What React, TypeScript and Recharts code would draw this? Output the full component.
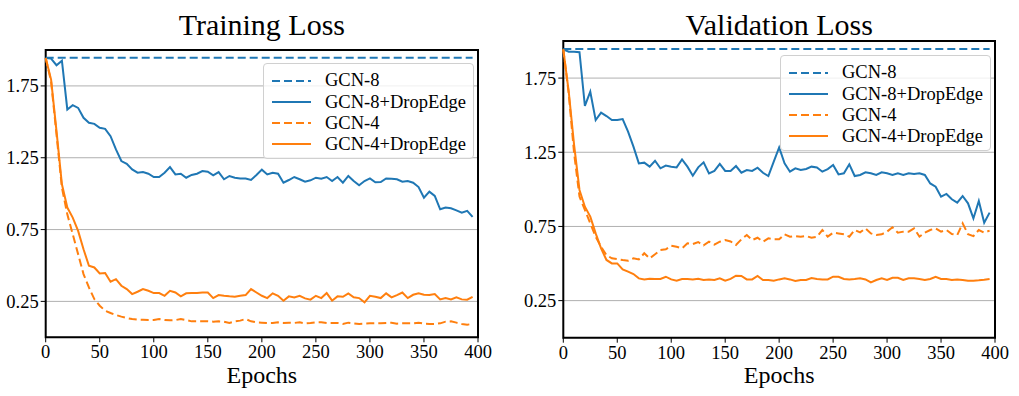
import React from "react";
import {
  CartesianGrid,
  Line,
  LineChart,
  ReferenceArea,
  XAxis,
  YAxis,
} from "recharts";

const FONT = "'Liberation Serif', 'Times New Roman', serif";
const BLUE = "#1f77b4";
const ORANGE = "#ff7f0e";

const epochs = [
  0, 5, 10, 15, 20, 25, 30, 35, 40, 45, 50, 55, 60, 65, 70, 75, 80, 85, 90, 95,
  100, 105, 110, 115, 120, 125, 130, 135, 140, 145, 150, 155, 160, 165, 170, 175, 180, 185, 190, 195,
  200, 205, 210, 215, 220, 225, 230, 235, 240, 245, 250, 255, 260, 265, 270, 275, 280, 285, 290, 295,
  300, 305, 310, 315, 320, 325, 330, 335, 340, 345, 350, 355, 360, 365, 370, 375, 380, 385, 390, 395,
];

const xTicks = [0, 50, 100, 150, 200, 250, 300, 350, 400];
const yTicks = [0.25, 0.75, 1.25, 1.75];

// GCN-8 never leaves its starting loss
const gcn8Epochs = [0, 395];
const trainGcn8 = [1.946, 1.946];
const valGcn8 = [1.946, 1.946];

const trainGcn8DE = [
  1.944, 1.94, 1.894, 1.926, 1.586, 1.616, 1.597, 1.528, 1.493, 1.486, 1.458, 1.451, 1.4, 1.308, 1.227, 1.208, 1.169, 1.146, 1.15, 1.139,
  1.116, 1.116, 1.146, 1.185, 1.134, 1.139, 1.111, 1.13, 1.139, 1.157, 1.153, 1.127, 1.15, 1.1, 1.123, 1.111, 1.106, 1.106, 1.095, 1.13,
  1.167, 1.134, 1.146, 1.139, 1.076, 1.095, 1.116, 1.1, 1.083, 1.093, 1.111, 1.104, 1.116, 1.088, 1.116, 1.076, 1.123, 1.088, 1.058, 1.088,
  1.106, 1.079, 1.081, 1.106, 1.104, 1.1, 1.083, 1.088, 1.076, 1.046, 0.972, 1.014, 0.984, 0.891, 0.903, 0.898, 0.884, 0.868, 0.88, 0.838,
];

const trainGcn4 = [
  1.944, 1.78, 1.412, 1.042, 0.856, 0.718, 0.579, 0.44, 0.347, 0.266, 0.22, 0.185, 0.169, 0.155, 0.144, 0.134, 0.127, 0.123, 0.123, 0.12,
  0.12, 0.127, 0.12, 0.118, 0.12, 0.127, 0.12, 0.111, 0.111, 0.111, 0.111, 0.109, 0.111, 0.109, 0.1, 0.111, 0.116, 0.127, 0.111, 0.104,
  0.102, 0.1, 0.1, 0.104, 0.1, 0.102, 0.1, 0.104, 0.097, 0.1, 0.104, 0.104, 0.1, 0.1, 0.1, 0.093, 0.102, 0.097, 0.093, 0.095,
  0.097, 0.097, 0.097, 0.1, 0.102, 0.095, 0.097, 0.097, 0.097, 0.102, 0.095, 0.093, 0.093, 0.097, 0.109, 0.111, 0.102, 0.093, 0.088, 0.093,
];

const trainGcn4DE = [
  1.944, 1.794, 1.435, 1.065, 0.903, 0.833, 0.741, 0.613, 0.498, 0.486, 0.444, 0.447, 0.387, 0.405, 0.359, 0.336, 0.301, 0.317, 0.336, 0.324,
  0.308, 0.308, 0.289, 0.324, 0.312, 0.285, 0.306, 0.308, 0.308, 0.312, 0.312, 0.273, 0.294, 0.289, 0.285, 0.282, 0.289, 0.294, 0.336, 0.312,
  0.289, 0.273, 0.306, 0.289, 0.255, 0.285, 0.278, 0.289, 0.271, 0.262, 0.289, 0.273, 0.308, 0.255, 0.285, 0.282, 0.306, 0.278, 0.273, 0.243,
  0.289, 0.282, 0.273, 0.306, 0.278, 0.294, 0.312, 0.273, 0.296, 0.306, 0.296, 0.294, 0.301, 0.264, 0.273, 0.264, 0.278, 0.264, 0.262, 0.282,
];

const valGcn8DE = [
  1.944, 1.928, 1.928, 1.924, 1.562, 1.658, 1.467, 1.517, 1.494, 1.467, 1.467, 1.474, 1.389, 1.288, 1.175, 1.18, 1.153, 1.193, 1.142, 1.16,
  1.153, 1.148, 1.202, 1.153, 1.092, 1.148, 1.182, 1.108, 1.124, 1.171, 1.124, 1.124, 1.157, 1.112, 1.13, 1.124, 1.146, 1.112, 1.09, 1.187,
  1.283, 1.175, 1.119, 1.142, 1.13, 1.137, 1.153, 1.148, 1.119, 1.137, 1.164, 1.101, 1.108, 1.169, 1.09, 1.097, 1.115, 1.108, 1.097, 1.115,
  1.108, 1.097, 1.108, 1.097, 1.108, 1.103, 1.108, 1.097, 1.04, 1.018, 0.951, 0.969, 0.933, 0.91, 0.955, 0.906, 0.804, 0.921, 0.775, 0.843,
];

const valGcn4 = [
  1.944, 1.647, 1.243, 0.951, 0.861, 0.771, 0.681, 0.613, 0.557, 0.535, 0.53, 0.524, 0.519, 0.535, 0.528, 0.569, 0.535, 0.562, 0.591, 0.596,
  0.62, 0.613, 0.602, 0.636, 0.631, 0.645, 0.622, 0.647, 0.627, 0.647, 0.658, 0.649, 0.625, 0.663, 0.692, 0.658, 0.674, 0.647, 0.67, 0.663,
  0.663, 0.697, 0.681, 0.685, 0.681, 0.685, 0.674, 0.681, 0.726, 0.681, 0.708, 0.703, 0.697, 0.681, 0.726, 0.71, 0.737, 0.703, 0.692, 0.697,
  0.715, 0.744, 0.708, 0.715, 0.715, 0.737, 0.681, 0.708, 0.726, 0.737, 0.715, 0.726, 0.699, 0.692, 0.771, 0.697, 0.685, 0.726, 0.708, 0.722,
];

const valGcn4DE = [
  1.944, 1.66, 1.3, 0.996, 0.883, 0.816, 0.703, 0.602, 0.524, 0.501, 0.501, 0.461, 0.445, 0.429, 0.4, 0.393, 0.398, 0.396, 0.396, 0.411,
  0.393, 0.384, 0.396, 0.396, 0.393, 0.398, 0.389, 0.393, 0.389, 0.4, 0.384, 0.396, 0.418, 0.416, 0.393, 0.393, 0.416, 0.389, 0.389, 0.384,
  0.393, 0.4, 0.393, 0.382, 0.389, 0.389, 0.402, 0.396, 0.393, 0.393, 0.411, 0.411, 0.396, 0.393, 0.396, 0.4, 0.393, 0.373, 0.389, 0.4,
  0.389, 0.404, 0.404, 0.389, 0.4, 0.4, 0.396, 0.389, 0.396, 0.411, 0.396, 0.396, 0.389, 0.393, 0.389, 0.384, 0.384, 0.387, 0.391, 0.396,
];

const legendItems = [
  { name: "GCN-8", color: BLUE, dashed: true },
  { name: "GCN-8+DropEdge", color: BLUE, dashed: false },
  { name: "GCN-4", color: ORANGE, dashed: true },
  { name: "GCN-4+DropEdge", color: ORANGE, dashed: false },
];

const DASH = "8 4";
const HEIGHT = 396;

const buildRows = (a8de: number[], a4: number[], a4de: number[]) =>
  epochs.map((epoch, i) => ({ epoch, gcn8de: a8de[i], gcn4: a4[i], gcn4de: a4de[i] }));

const buildFlat = (values: number[]) =>
  gcn8Epochs.map((epoch, i) => ({ epoch, loss: values[i] }));

const LegendBox = ({ left, top }: { left: number; top: number }) => (
  <div
    style={{
      position: "absolute",
      left,
      top,
      width: 211,
      height: 96,
      boxSizing: "border-box",
      border: "1px solid #d0d0d0",
      borderRadius: 4,
      background: "rgba(255,255,255,0.8)",
      paddingTop: 6,
      fontFamily: FONT,
      fontSize: 18.5,
      color: "#000",
    }}
  >
    {legendItems.map((item) => (
      <div key={item.name} style={{ display: "flex", alignItems: "center", height: 21.2 }}>
        <svg width={39} height={6} style={{ marginLeft: 8, marginRight: 14 }}>
          <line
            x1={0}
            y1={3}
            x2={39}
            y2={3}
            stroke={item.color}
            strokeWidth={2}
            strokeDasharray={item.dashed ? DASH : undefined}
          />
        </svg>
        <span style={{ whiteSpace: "nowrap", lineHeight: 1 }}>{item.name}</span>
      </div>
    ))}
  </div>
);

interface PanelProps {
  title: string;
  chartLeft: number;
  chartWidth: number;
  plotLeft: number;
  plotTop: number;
  plotRight: number;
  plotBottom: number;
  rows: Array<Record<string, number>>;
  flat: Array<{ epoch: number; loss: number }>;
  legendTop: number;
}

const Panel = ({
  title,
  chartLeft,
  chartWidth,
  plotLeft,
  plotTop,
  plotRight,
  plotBottom,
  rows,
  flat,
  legendTop,
}: PanelProps) => {
  const yAxisWidth = 45.7;
  const xAxisHeight = 30;
  const center = (plotLeft + plotRight) / 2;
  const tickStyle = { fill: "#000", fontSize: 18.5, fontFamily: FONT };
  return (
    <>
      <div
        style={{
          position: "absolute",
          left: center - 150,
          width: 300,
          top: 10,
          textAlign: "center",
          fontFamily: FONT,
          fontSize: 30,
          lineHeight: 1,
          color: "#000",
        }}
      >
        {title}
      </div>
      <div style={{ position: "absolute", left: chartLeft, top: 0 }}>
        <LineChart
          width={chartWidth}
          height={HEIGHT}
          data={rows}
          margin={{
            top: plotTop,
            left: plotLeft - chartLeft - yAxisWidth,
            right: chartLeft + chartWidth - plotRight,
            bottom: HEIGHT - plotBottom - xAxisHeight,
          }}
        >
          <CartesianGrid vertical={false} stroke="#b0b0b0" strokeWidth={1} />
          <XAxis
            dataKey="epoch"
            type="number"
            domain={[0, 400]}
            ticks={xTicks}
            height={xAxisHeight}
            axisLine={false}
            tickLine={{ stroke: "#000", strokeWidth: 1 }}
            tickSize={5}
            tickMargin={3}
            tick={tickStyle}
            interval={0}
          />
          <YAxis
            type="number"
            domain={[0, 2]}
            ticks={yTicks}
            width={yAxisWidth}
            axisLine={false}
            tickLine={{ stroke: "#000", strokeWidth: 1 }}
            tickSize={5}
            tickMargin={2}
            tick={tickStyle}
            tickFormatter={(v: number) => v.toFixed(2)}
            interval={0}
          />
          <Line
            data={flat}
            dataKey="loss"
            type="linear"
            stroke={BLUE}
            strokeWidth={2}
            strokeDasharray={DASH}
            dot={false}
            isAnimationActive={false}
          />
          <Line
            dataKey="gcn8de"
            type="linear"
            stroke={BLUE}
            strokeWidth={2}
            dot={false}
            isAnimationActive={false}
          />
          <Line
            dataKey="gcn4"
            type="linear"
            stroke={ORANGE}
            strokeWidth={2}
            strokeDasharray={DASH}
            dot={false}
            isAnimationActive={false}
          />
          <Line
            dataKey="gcn4de"
            type="linear"
            stroke={ORANGE}
            strokeWidth={2}
            dot={false}
            isAnimationActive={false}
          />
          <ReferenceArea
            x1={0}
            x2={400}
            y1={0}
            y2={2}
            fill="none"
            fillOpacity={0}
            stroke="#000"
            strokeWidth={2}
          />
        </LineChart>
      </div>
      <LegendBox left={plotRight - 215} top={legendTop} />
      <div
        style={{
          position: "absolute",
          left: center - 100,
          width: 200,
          top: 363,
          textAlign: "center",
          fontFamily: FONT,
          fontSize: 24,
          lineHeight: 1,
          color: "#000",
        }}
      >
        Epochs
      </div>
    </>
  );
};

export default function App() {
  return (
    <div
      style={{
        position: "absolute",
        left: 0,
        top: 0,
        width: 1019,
        height: HEIGHT,
        background: "#fff",
        overflow: "hidden",
      }}
    >
      <Panel
        title="Training Loss"
        chartLeft={0}
        chartWidth={510}
        plotLeft={45.7}
        plotTop={50}
        plotRight={478}
        plotBottom={337.3}
        rows={buildRows(trainGcn8DE, trainGcn4, trainGcn4DE)}
        flat={buildFlat(trainGcn8)}
        legendTop={63}
      />
      <Panel
        title="Validation Loss"
        chartLeft={510}
        chartWidth={509}
        plotLeft={563.3}
        plotTop={41}
        plotRight={995}
        plotBottom={337.7}
        rows={buildRows(valGcn8DE, valGcn4, valGcn4DE)}
        flat={buildFlat(valGcn8)}
        legendTop={55}
      />
    </div>
  );
}
